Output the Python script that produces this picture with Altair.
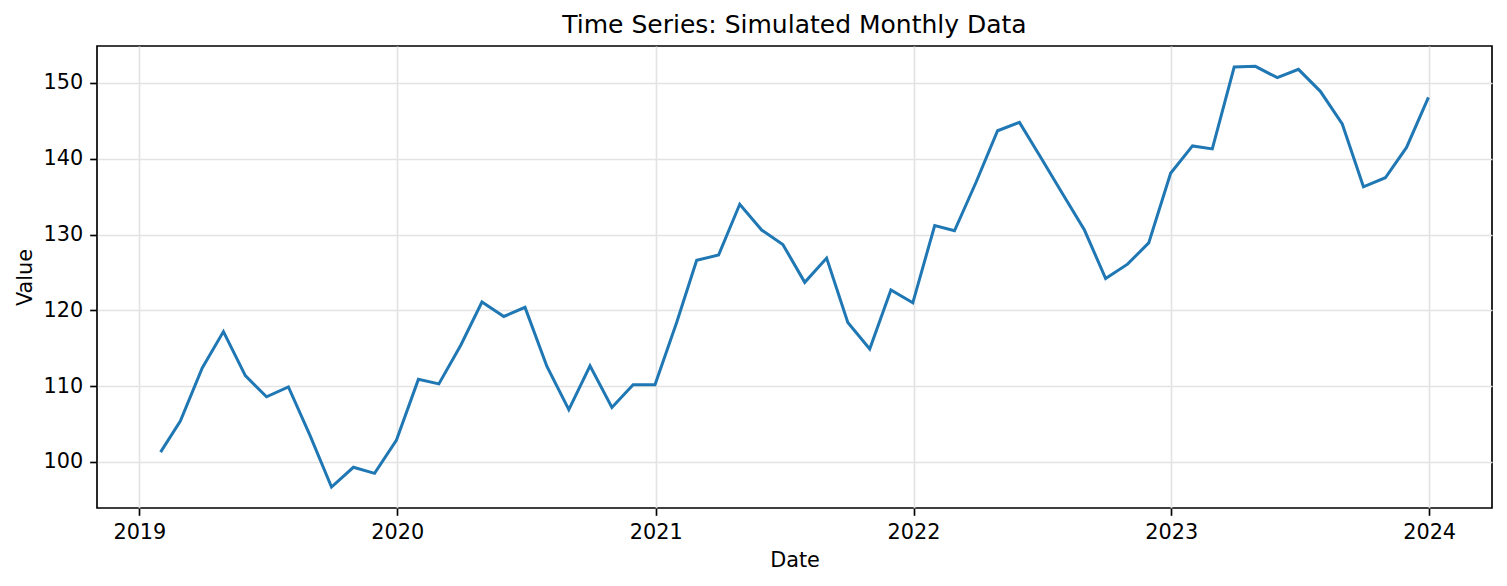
import altair as alt
import pandas as pd

# Month-end dates, Jan 2019 .. Dec 2023
dates = pd.date_range("2019-01-31", periods=60, freq="ME").strftime("%Y-%m-%d").tolist()

values_2019 = [101.3, 105.4, 112.4, 117.2, 111.4, 108.6, 109.9, 103.4, 96.7, 99.3, 98.5, 102.9]
values_2020 = [110.9, 110.3, 115.4, 121.1, 119.2, 120.4, 112.6, 106.9, 112.7, 107.2, 110.2, 110.2]
values_2021 = [118.5, 126.6, 127.3, 134.0, 130.6, 128.7, 123.7, 126.9, 118.4, 114.9, 122.7, 121.0]
values_2022 = [131.2, 130.5, 137.0, 143.7, 144.8, 140.2, 135.4, 130.6, 124.2, 126.1, 128.9, 138.1]
values_2023 = [141.7, 141.3, 152.1, 152.2, 150.7, 151.8, 148.9, 144.6, 136.3, 137.5, 141.5, 148.1]

values = values_2019 + values_2020 + values_2021 + values_2022 + values_2023

y_ticks = [100, 110, 120, 130, 140, 150]
x_tick_years = [2019, 2020, 2021, 2022, 2023, 2024]

df = pd.DataFrame({"Date": dates, "Value": values})

FONT = "DejaVu Sans"

x_axis = alt.Axis(
    values=[alt.DateTime(year=y, month=1, date=1, utc=True) for y in x_tick_years],
    format="%Y",
    formatType="utc",
    title="Date",
    titleY=58.7,
    titleBaseline="alphabetic",
    labelPadding=7,
    labelBaseline="top",
)

y_axis = alt.Axis(
    values=y_ticks,
    title="Value",
    titleX=-65.5,
    titleY=231,
    titleAngle=-90,
    titleBaseline="alphabetic",
    titleAlign="center",
    labelPadding=7,
)

chart = (
    alt.Chart(df)
    .mark_line(color="#1f77b4", strokeWidth=3)
    .encode(
        x=alt.X(
            "Date:T",
            scale=alt.Scale(
                type="utc",
                domain=[
                    alt.DateTime(year=2018, month=11, date=2, utc=True),
                    alt.DateTime(year=2024, month=3, date=30, utc=True),
                ],
                nice=False,
            ),
            axis=x_axis,
        ),
        y=alt.Y(
            "Value:Q",
            scale=alt.Scale(domain=[93.93, 154.88], nice=False, zero=False),
            axis=y_axis,
        ),
    )
    .properties(
        width=1395,
        height=462,
        title=alt.TitleParams(
            "Time Series: Simulated Monthly Data",
            fontSize=25,
            fontWeight="normal",
            font=FONT,
            color="black",
            anchor="middle",
            baseline="alphabetic",
            offset=-12,
        ),
        autosize=alt.AutoSizeParams(type="none"),
        padding={"left": 97, "top": 46, "right": 15, "bottom": 78},
        background="white",
    )
    .configure_view(stroke="black", strokeWidth=1.67)
    .configure_axis(
        domain=False,
        grid=True,
        gridColor="#e3e3e3",
        gridWidth=1.67,
        tickColor="black",
        tickSize=7.3,
        tickWidth=1.67,
        labelFont=FONT,
        labelFontSize=20.8,
        labelColor="black",
        titleFont=FONT,
        titleFontSize=20.8,
        titleColor="black",
        titleFontWeight="normal",
    )
)

chart.save("out.html", embed_options={"renderer": "svg", "actions": False})
